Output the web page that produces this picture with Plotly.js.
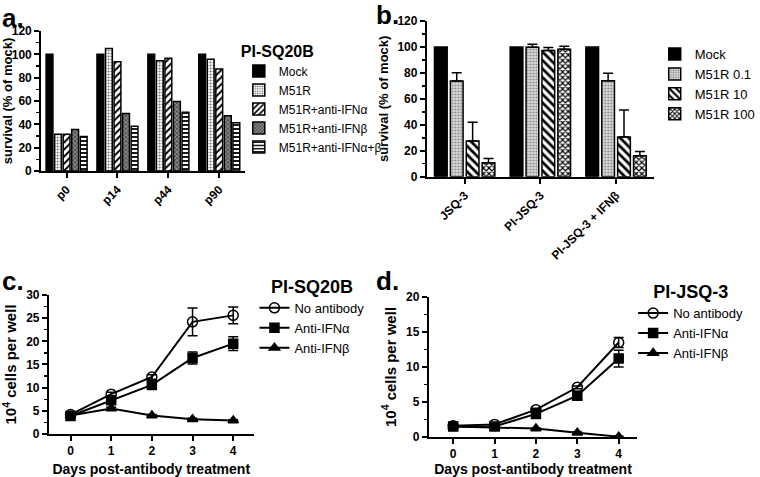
<!DOCTYPE html>
<html>
<head>
<meta charset="utf-8">
<script src="https://cdn.plot.ly/plotly-3.0.1.min.js"></script>
<style>body{margin:0;background:#fff}#myDiv{width:760px;height:477px}</style>
</head>
<body>
<div id="myDiv"></div>
<script>
// panel a: PI-SQ20B passages
var passages = ['p0', 'p14', 'p44', 'p90'];
var mockA = [100, 100, 100, 100];
var m51rA = [31.5, 105, 94.6, 95.7];
var antiAlphaA = [31.5, 93.7, 96.6, 87.4];
var antiBetaA = [35.5, 49.3, 59.6, 47.3];
var antiBothA = [29.5, 38.4, 50.4, 41.3];

// panel b: cell lines vs M51R dose
var cellLines = ['JSQ-3', 'PI-JSQ-3', 'PI-JSQ-3 + IFNβ'];
var mockB = [100, 100, 100];
var m51r01 = [73.8, 99.7, 74];
var m51r01Err = [6.4, 2.3, 5.7];
var m51r10 = [27.5, 97.2, 30.6];
var m51r10Err = [14.4, 2.3, 20.8];
var m51r100 = [10.8, 98.2, 16.2];
var m51r100Err = [3.3, 2.3, 3.3];
var zeros3 = [0, 0, 0];

// panels c and d: growth curves
var days = [0, 1, 2, 3, 4];
var noAbC = [4.2, 8.6, 12.3, 24.2, 25.6];
var noAbCErr = [0.3, 0.4, 0.5, 3.0, 1.8];
var alphaC = [3.9, 7.3, 10.6, 16.4, 19.5];
var alphaCErr = [0.3, 0.4, 0.5, 1.3, 1.5];
var betaC = [4.0, 5.5, 4.0, 3.2, 2.9];
var betaCErr = [0.2, 0.3, 0.2, 0.2, 0.2];
var noAbD = [1.6, 1.8, 3.9, 7.1, 13.5];
var noAbDErr = [0.1, 0.1, 0.2, 0.2, 0.7];
var alphaD = [1.5, 1.5, 3.3, 5.9, 11.2];
var alphaDErr = [0.1, 0.1, 0.2, 0.6, 1.2];
var betaD = [1.5, 1.3, 1.2, 0.6, 0.05];
var betaDErr = [0.1, 0.1, 0.1, 0.1, 0.05];

var FONT = 'Arial, "Liberation Sans", sans-serif';
var edge = {color: 'black', width: 1.5};

function barA(name, y, pattern, color) {
  return {x: passages, y: y, name: name, type: 'bar', xaxis: 'x', yaxis: 'y', legend: 'legend',
    marker: {color: color || 'white', line: edge, pattern: pattern}};
}
function barB(name, y, err, pattern, color) {
  var t = {x: cellLines, y: y, name: name, type: 'bar', xaxis: 'x2', yaxis: 'y2', legend: 'legend2',
    marker: {color: color || 'white', line: edge, pattern: pattern}};
  if (err) t.error_y = {type: 'data', symmetric: false, array: err, arrayminus: zeros3,
    color: 'black', thickness: 1.5, width: 5};
  return t;
}
function curve(name, y, err, symbol, ax, leg) {
  return {x: days, y: y, name: name, type: 'scatter', mode: 'lines+markers',
    xaxis: 'x' + ax, yaxis: 'y' + ax, legend: leg,
    line: {color: 'black', width: 2},
    marker: {symbol: symbol, size: symbol == 'circle-open' ? 10 : 9, color: 'black', line: {color: 'black', width: 1.5}},
    error_y: {type: 'data', array: err, color: 'black', thickness: 1.5, width: 5}};
}

var data = [
  barA('Mock', mockA, {shape: ''}, 'black'),
  barA('M51R', m51rA, {shape: '.', fgcolor: '#666', bgcolor: 'white', size: 3, solidity: 0.3}),
  barA('M51R+anti-IFNα', antiAlphaA, {shape: '/', fgcolor: 'black', bgcolor: 'white', size: 5, solidity: 0.4}),
  barA('M51R+anti-IFNβ', antiBetaA, {shape: 'x', fgcolor: '#333', bgcolor: '#888', size: 3, solidity: 0.4}),
  barA('M51R+anti-IFNα+β', antiBothA, {shape: '-', fgcolor: 'black', bgcolor: 'white', size: 4, solidity: 0.45}),
  barB('Mock', mockB, null, {shape: ''}, 'black'),
  barB('M51R 0.1', m51r01, m51r01Err, {shape: '.', fgcolor: '#888', bgcolor: '#ddd', size: 3, solidity: 0.4}),
  barB('M51R 10', m51r10, m51r10Err, {shape: '\\', fgcolor: 'black', bgcolor: 'white', size: 6, solidity: 0.45}),
  barB('M51R 100', m51r100, m51r100Err, {shape: 'x', fgcolor: 'black', bgcolor: 'white', size: 4, solidity: 0.5}),
  curve('No antibody', noAbC, noAbCErr, 'circle-open', 3, 'legend3'),
  curve('Anti-IFNα', alphaC, alphaCErr, 'square', 3, 'legend3'),
  curve('Anti-IFNβ', betaC, betaCErr, 'triangle-up', 3, 'legend3'),
  curve('No antibody', noAbD, noAbDErr, 'circle-open', 4, 'legend4'),
  curve('Anti-IFNα', alphaD, alphaDErr, 'square', 4, 'legend4'),
  curve('Anti-IFNβ', betaD, betaDErr, 'triangle-up', 4, 'legend4')
];

var tickBold = {family: FONT, size: 12, color: 'black', weight: 'bold'};
function yAx(domain, anchor, range, dtick, minor, title, size) {
  return {domain: domain, anchor: anchor, range: range, dtick: dtick, showline: true, linecolor: 'black', linewidth: 2,
    ticks: 'outside', ticklen: 5, tickwidth: 2, tickcolor: 'black', showgrid: false, zeroline: false,
    minor: {dtick: minor, ticks: 'outside', ticklen: 3, tickwidth: 1.5, tickcolor: 'black', showgrid: false},
    tickfont: tickBold, fixedrange: true,
    title: {text: title, font: {family: FONT, size: size, color: 'black', weight: 'bold'}, standoff: 6}};
}
function xCat(domain, anchor) {
  return {domain: domain, anchor: anchor, showline: true, linecolor: 'black', linewidth: 2,
    ticks: 'outside', ticklen: 5, tickwidth: 2, tickcolor: 'black', showgrid: false, zeroline: false,
    tickangle: -45, tickfont: {family: FONT, size: 12, color: 'black', weight: 'bold'}};
}
function xDays(domain, anchor, range) {
  return {domain: domain, anchor: anchor, range: range, dtick: 1, showline: true, linecolor: 'black', linewidth: 2,
    ticks: 'outside', ticklen: 5, tickwidth: 2, tickcolor: 'black', showgrid: false, zeroline: false,
    tickfont: {family: FONT, size: 12, color: 'black', weight: 'bold'},
    title: {text: 'Days post-antibody treatment', font: {family: FONT, size: 14, color: 'black', weight: 'bold'}, standoff: 14}};
}
function leg(x, y, size, title, titleSize, side) {
  var l = {x: x, y: y, xanchor: 'left', yanchor: 'top', bgcolor: 'rgba(0,0,0,0)', itemwidth: 30,
    tracegroupgap: 0, font: {family: FONT, size: size, color: 'black'}};
  if (title) {
    l.title = {text: title, font: {family: FONT, size: titleSize, color: 'black', weight: 'bold'}};
    if (side) l.title.side = side;
  }
  return l;
}
function letter(t, x, y) {
  return {text: t, x: x, y: y, xref: 'paper', yref: 'paper', xanchor: 'left', yanchor: 'middle',
    showarrow: false, font: {family: FONT, size: 26, color: 'black', weight: 'bold'}};
}

var layout = {
  width: 760, height: 477, margin: {l: 0, r: 0, t: 0, b: 0},
  paper_bgcolor: 'white', plot_bgcolor: 'white', font: {family: FONT, color: 'black'},
  barmode: 'group', bargap: 0.16, bargroupgap: 0.2,
  xaxis: xCat([0.0553, 0.3289], 'y'),
  yaxis: yAx([0.6415, 0.935], 'x', [0, 120], 20, 10, 'survival (% of mock)', 13),
  xaxis2: xCat([0.5737, 0.8789], 'y2'),
  yaxis2: yAx([0.6296, 0.956], 'x2', [0, 120], 20, 10, 'survival (% of mock)', 13),
  xaxis3: xDays([0.0658, 0.3408], 'y3', [-0.53, 4.5]),
  yaxis3: yAx([0.0901, 0.3816], 'x3', [0, 30], 5, 2.5, '10<sup>4</sup> cells per well', 15),
  xaxis4: xDays([0.5763, 0.8566], 'y4', [-0.59, 4.45]),
  yaxis4: yAx([0.0839, 0.3774], 'x4', [0, 20], 5, 2.5, '10<sup>4</sup> cells per well', 15),
  legend: leg(0.321, 0.925, 12, 'PI-SQ20B', 16),
  legend2: leg(0.88, 0.918, 13),
  legend3: leg(0.342, 0.435, 13, 'PI-SQ20B', 18, 'top center'),
  legend4: leg(0.851, 0.424, 13, 'PI-JSQ-3', 18, 'top center'),
  annotations: [letter('a.', 0.0, 0.963), letter('b.', 0.503, 0.968), letter('c.', 0.0, 0.41), letter('d.', 0.503, 0.41)]
};

Plotly.newPlot('myDiv', data, layout, {displayModeBar: false, staticPlot: true});
</script>
</body>
</html>
